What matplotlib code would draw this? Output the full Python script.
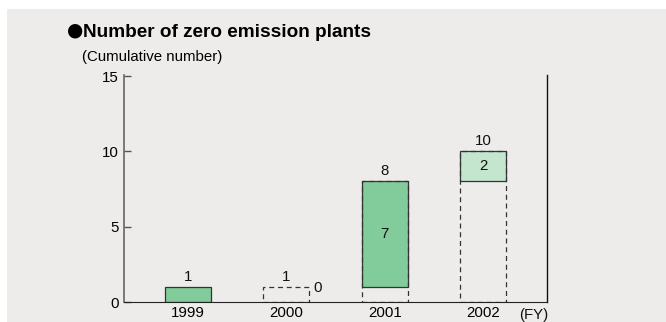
import matplotlib

matplotlib.use("Agg")
import matplotlib.pyplot as plt
from matplotlib.patches import Rectangle
from matplotlib.transforms import blended_transform_factory

plt.rcParams["font.family"] = ["Liberation Sans", "DejaVu Sans"]

# data
years = ["1999", "2000", "2001", "2002"]
cumulative = [1, 1, 8, 10]
added = [1, 0, 7, 2]
y_ticks = [0, 5, 10, 15]

bar_colors = ["#82cc9b", "#82cc9b", "#82cc9b", "#c4e6cf"]
bg = "#edecea"
edge = "#333333"
fs = 10.8

fig = plt.figure(figsize=(6.66, 3.22), dpi=100)
fig.patch.set_facecolor("white")
# grey panel behind everything (white strip at top and left)
fig.patches.append(
    Rectangle((7 / 666, 0), 1 - 7 / 666, 1 - 9 / 322, transform=fig.transFigure,
              facecolor=bg, edgecolor="none", zorder=-5)
)

ax = fig.add_axes([124 / 666, 20 / 322, 423 / 666, 227 / 322])
ax.patch.set_visible(False)

x = list(range(len(years)))
width = 0.47

# new plants of the year: coloured block on top of previous total
bottoms = [c - a for c, a in zip(cumulative, added)]
for i in x:
    if added[i] > 0:
        ax.bar(i, added[i], width, bottom=bottoms[i], color=bar_colors[i],
               edgecolor=edge, linewidth=0.9, zorder=2)

# dashed outline for cumulative totals (years after the first)
for i in x[1:]:
    ax.bar(i, cumulative[i], width, fill=False, edgecolor=edge,
           linewidth=0.9, linestyle=(0, (4, 3)), zorder=3)

# value labels
for i in x:
    ax.text(i, cumulative[i] + 0.2, str(cumulative[i]), ha="center",
            va="bottom", fontsize=fs, color="#111111")
    if added[i] > 0 and i > 0:
        ax.text(i, bottoms[i] + added[i] / 2, str(added[i]), ha="center",
                va="center", fontsize=fs, color="#111111")
    elif added[i] == 0:
        ax.text(i + width / 2 + 0.04, cumulative[i] - 0.05, str(added[i]),
                ha="left", va="center", fontsize=fs, color="#111111")

ax.set_xlim(-0.65, 3.65)
ax.set_ylim(0, 15.07)
ax.set_yticks(y_ticks)
ax.set_xticks(x)
ax.set_xticklabels(years)
ax.tick_params(axis="x", length=0, pad=3, labelsize=fs)
ax.tick_params(axis="y", direction="in", length=5, width=1, color="#555555",
               pad=4, labelsize=fs)

ax.spines["top"].set_visible(False)
ax.spines["left"].set_color("#666666")
ax.spines["left"].set_linewidth(1.2)
ax.spines["bottom"].set_color("#222222")
ax.spines["right"].set_color("#111111")
ax.spines["right"].set_linewidth(1.0)

trans = blended_transform_factory(ax.transData, ax.transAxes)
ax.text(3.52, -0.025, "(FY)", transform=trans, ha="center", va="top",
        fontsize=fs, color="#111111")

fig.text(67 / 666, 1 - 35 / 322, "\u25cf", fontsize=13.5, ha="left",
         va="baseline", family="DejaVu Sans")
fig.text(83 / 666, 1 - 37 / 322, "Number of zero emission plants",
         fontsize=13.7, fontweight="bold", ha="left", va="baseline")
fig.text(82 / 666, 1 - 57 / 322, "(Cumulative number)", fontsize=fs,
         ha="left", va="center")

fig.savefig("out.png", dpi=100, facecolor=fig.get_facecolor())
